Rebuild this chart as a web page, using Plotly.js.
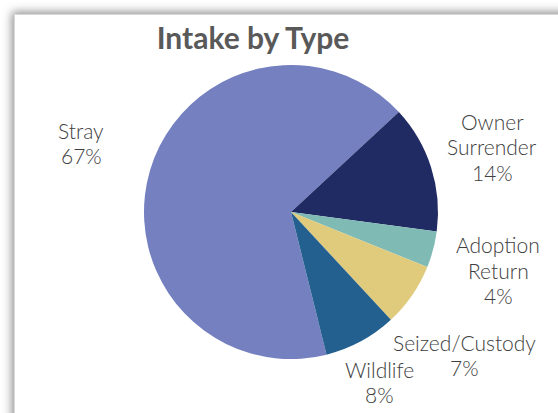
<!DOCTYPE html>
<html>
<head>
<meta charset="utf-8">
<script src="https://cdn.plot.ly/plotly-3.0.1.min.js"></script>
<style>
  html, body { margin: 0; padding: 0; background: #ffffff; width: 558px; height: 413px; overflow: hidden; }
  #frame { position: absolute; left: 14px; top: 14px; width: 600px; height: 460px; background: #ffffff;
           border: 1px solid #d9d9d9; box-shadow: 0 0 9px 2px rgba(0,0,0,0.45); }
  #chart { position: absolute; left: 0; top: 0; width: 558px; height: 413px; }
</style>
</head>
<body>
<div id="frame"></div>
<div id="chart"></div>
<script>
const categories = ["Stray", "Owner Surrender", "Adoption Return", "Seized/Custody", "Wildlife"];
const values = [67, 14, 4, 7, 8];
const colors = ["#7480C0", "#212B63", "#7FBAB4", "#E0CB7D", "#23608F"];
const chartTitle = "Intake by Type";

// label centres (page pixels) for each category label
const labelPos = [[81, 143], [492, 147], [498, 270], [464, 355], [379, 382]];

const W = 558, H = 413;
const total = values.reduce((a, b) => a + b, 0);
const lineH = 25.5;

function labelLines(name, v) {
  const pct = Math.round(v / total * 100) + "%";
  const nm = name.indexOf("/") >= 0 ? [name] : name.split(" ");
  return nm.concat([pct]);
}

const cx = 291, cy = 212, r = 147;
const trace = {
  type: "pie",
  labels: categories,
  values: values,
  marker: { colors: colors, line: { width: 0 } },
  sort: false,
  direction: "clockwise",
  rotation: 166,
  textinfo: "none",
  hoverinfo: "label+percent",
  showlegend: false,
  domain: { x: [(cx - r) / W, (cx + r) / W], y: [1 - (cy + r) / H, 1 - (cy - r) / H] }
};

const annotations = [];
categories.forEach((c, i) => {
  const lines = labelLines(c, values[i]);
  const y0 = labelPos[i][1] - (lines.length - 1) * lineH / 2;
  lines.forEach((t, j) => {
    annotations.push({
      xref: "paper", yref: "paper",
      x: labelPos[i][0] / W, y: 1 - (y0 + j * lineH) / H,
      xanchor: "center", yanchor: "middle",
      text: t,
      showarrow: false,
      font: { family: "Lato, sans-serif", size: 21, weight: 300, color: "#404040" }
    });
  });
});

const layout = {
  width: W, height: H,
  margin: { l: 0, r: 0, t: 0, b: 0 },
  paper_bgcolor: "rgba(0,0,0,0)",
  plot_bgcolor: "rgba(0,0,0,0)",
  title: {
    text: "<b>" + chartTitle + "</b>",
    xref: "paper", yref: "paper",
    x: 253 / W, y: 1 - 38 / H,
    xanchor: "center", yanchor: "middle",
    font: { family: "Lato, sans-serif", size: 30, color: "#595959" }
  },
  annotations: annotations
};

Plotly.newPlot("chart", [trace], layout, { displayModeBar: false, staticPlot: true });
</script>
</body>
</html>
